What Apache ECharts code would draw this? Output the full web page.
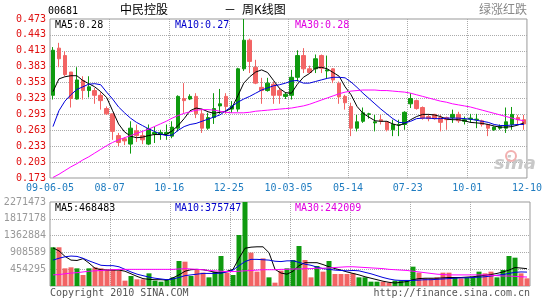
<!DOCTYPE html>
<html><head><meta charset="utf-8">
<script src="https://cdn.jsdelivr.net/npm/echarts@6/dist/echarts.min.js"></script>
<style>html,body{margin:0;padding:0;background:#fff}#c{width:545px;height:300px}</style>
</head><body><div id="c"></div>
<script>
const dates = ['09-06-05','09-06-12','09-06-19','09-06-26','09-07-03','09-07-10','09-07-17','09-07-24','09-07-31','09-08-07',
'09-08-14','09-08-21','09-08-28','09-09-04','09-09-11','09-09-18','09-09-25','09-10-02','09-10-09','09-10-16',
'09-10-23','09-10-30','09-11-06','09-11-13','09-11-20','09-11-27','09-12-04','09-12-11','09-12-18','09-12-25',
'10-01-01','10-01-08','10-01-15','10-01-22','10-01-29','10-02-05','10-02-12','10-02-19','10-02-26','10-03-05',
'10-03-12','10-03-19','10-03-26','10-04-02','10-04-09','10-04-16','10-04-23','10-04-30','10-05-07','10-05-14',
'10-05-21','10-05-28','10-06-04','10-06-11','10-06-18','10-06-25','10-07-02','10-07-09','10-07-16','10-07-23',
'10-07-30','10-08-06','10-08-13','10-08-20','10-08-27','10-09-03','10-09-10','10-09-17','10-09-24','10-10-01',
'10-10-08','10-10-15','10-10-22','10-10-29','10-11-05','10-11-12','10-11-19','10-11-26','10-12-03','10-12-10'];
const xTickLabels = ['09-06-05','08-07','10-16','12-25','10-03-05','05-14','07-23','10-01','12-10'];

const openP = [0.329,0.418,0.404,0.373,0.322,0.357,0.338,0.338,0.329,0.304,
0.294,0.253,0.247,0.237,0.262,0.253,0.237,0.256,0.256,0.256,
0.252,0.267,0.323,0.322,0.327,0.294,0.267,0.287,0.309,0.327,
0.303,0.303,0.379,0.433,0.382,0.344,0.338,0.350,0.338,0.327,
0.329,0.363,0.404,0.379,0.379,0.404,0.375,0.379,0.352,0.327,
0.308,0.267,0.280,0.293,0.277,0.283,0.279,0.264,0.273,0.274,
0.313,0.319,0.306,0.289,0.293,0.287,0.287,0.287,0.293,0.280,
0.284,0.283,0.281,0.274,0.264,0.267,0.267,0.274,0.287,0.283];
const closeP = [0.414,0.398,0.368,0.323,0.358,0.338,0.345,0.329,0.319,0.294,
0.261,0.240,0.243,0.267,0.253,0.245,0.266,0.259,0.259,0.259,
0.269,0.327,0.319,0.327,0.294,0.267,0.287,0.304,0.313,0.308,
0.309,0.379,0.433,0.393,0.352,0.338,0.352,0.329,0.329,0.331,
0.363,0.404,0.379,0.372,0.398,0.380,0.377,0.358,0.326,0.315,
0.267,0.279,0.296,0.294,0.279,0.280,0.264,0.274,0.274,0.297,
0.323,0.304,0.286,0.285,0.285,0.278,0.283,0.293,0.281,0.283,
0.286,0.284,0.274,0.267,0.269,0.270,0.279,0.293,0.283,0.275];
const highP = [0.420,0.428,0.412,0.373,0.382,0.365,0.365,0.343,0.335,0.308,
0.294,0.258,0.250,0.280,0.274,0.261,0.274,0.270,0.264,0.274,
0.280,0.329,0.352,0.331,0.333,0.303,0.296,0.333,0.341,0.333,
0.318,0.381,0.473,0.436,0.396,0.362,0.362,0.355,0.343,0.335,
0.377,0.414,0.418,0.385,0.406,0.406,0.404,0.380,0.355,0.330,
0.315,0.292,0.306,0.296,0.292,0.292,0.280,0.283,0.283,0.299,
0.333,0.321,0.308,0.294,0.294,0.292,0.289,0.302,0.298,0.289,
0.294,0.294,0.283,0.275,0.270,0.274,0.306,0.307,0.292,0.292];
const lowP = [0.321,0.382,0.365,0.306,0.321,0.321,0.325,0.313,0.302,0.292,
0.245,0.233,0.235,0.219,0.241,0.237,0.235,0.239,0.245,0.245,
0.248,0.261,0.296,0.320,0.286,0.258,0.264,0.275,0.294,0.294,
0.296,0.298,0.375,0.371,0.350,0.313,0.336,0.313,0.313,0.322,
0.321,0.355,0.371,0.371,0.371,0.371,0.360,0.352,0.313,0.302,
0.252,0.261,0.277,0.285,0.261,0.274,0.261,0.252,0.252,0.264,
0.305,0.302,0.283,0.280,0.283,0.261,0.264,0.277,0.277,0.274,
0.277,0.267,0.270,0.252,0.262,0.264,0.258,0.264,0.274,0.264];

const ma5 = [0.336,0.360,0.364,0.366,0.366,0.357,0.351,0.345,0.336,0.325,
0.300,0.275,0.260,0.252,0.249,0.250,0.253,0.255,0.255,0.255,
0.262,0.272,0.285,0.300,0.305,0.303,0.298,0.295,0.297,0.299,
0.305,0.328,0.352,0.364,0.373,0.377,0.372,0.357,0.342,0.334,
0.333,0.350,0.363,0.370,0.380,0.382,0.379,0.372,0.365,0.345,
0.330,0.308,0.295,0.288,0.281,0.280,0.280,0.275,0.272,0.276,
0.283,0.289,0.293,0.293,0.292,0.289,0.284,0.283,0.283,0.281,
0.278,0.277,0.276,0.274,0.271,0.269,0.269,0.270,0.273,0.277];
const ma10 = [0.270,0.300,0.318,0.330,0.340,0.345,0.350,0.351,0.349,0.335,
0.322,0.307,0.296,0.286,0.278,0.272,0.266,0.261,0.256,0.253,
0.254,0.263,0.270,0.274,0.276,0.280,0.284,0.288,0.292,0.300,
0.308,0.316,0.322,0.327,0.333,0.339,0.343,0.347,0.349,0.352,
0.356,0.357,0.352,0.352,0.355,0.358,0.361,0.363,0.363,0.362,
0.354,0.344,0.333,0.323,0.313,0.303,0.294,0.285,0.278,0.277,
0.280,0.285,0.286,0.286,0.285,0.285,0.286,0.286,0.286,0.285,
0.284,0.282,0.280,0.278,0.274,0.272,0.272,0.273,0.274,0.274];
const ma30 = [0.174,0.180,0.187,0.194,0.200,0.207,0.213,0.220,0.227,0.234,
0.240,0.245,0.249,0.253,0.257,0.261,0.265,0.270,0.275,0.280,
0.286,0.291,0.295,0.298,0.301,0.302,0.302,0.301,0.299,0.297,
0.296,0.296,0.296,0.297,0.299,0.300,0.301,0.302,0.303,0.304,
0.305,0.307,0.309,0.312,0.316,0.320,0.324,0.328,0.332,0.335,
0.337,0.338,0.339,0.339,0.339,0.338,0.338,0.337,0.336,0.335,
0.333,0.330,0.327,0.324,0.321,0.318,0.316,0.313,0.311,0.309,
0.307,0.304,0.301,0.298,0.295,0.292,0.289,0.286,0.283,0.281];

const volume = [1047000,1047000,478000,505000,478000,297000,478000,505000,478000,450000,
450000,414000,144000,270000,180000,180000,342000,144000,117000,180000,
234000,676000,658000,270000,433000,361000,234000,388000,811000,361000,
297000,1379000,2271473,902000,388000,748000,234000,90000,415000,478000,
703000,1082000,703000,234000,541000,388000,676000,325000,325000,325000,
342000,234000,234000,117000,117000,117000,90000,144000,144000,144000,
523000,361000,207000,207000,234000,361000,361000,234000,207000,234000,
234000,388000,342000,388000,234000,433000,811000,766000,342000,207000];
const volMa5 = [1030000,950000,800000,700000,690000,740000,620000,480000,440000,430000,
430000,430000,400000,330000,260000,200000,180000,170000,170000,160000,
220000,300000,400000,440000,450000,440000,410000,370000,350000,400000,
450000,750000,1020000,1050000,1060000,1060000,900000,450000,350000,320000,
400000,550000,630000,630000,630000,580000,520000,470000,430000,380000,
340000,300000,250000,210000,170000,130000,100000,80000,100000,120000,
170000,200000,210000,210000,210000,220000,230000,230000,230000,240000,
250000,270000,290000,310000,340000,380000,430000,500000,485000,468483];
const volMa10 = [700000,750000,790000,810000,800000,750000,680000,620000,560000,550000,
550000,520000,450000,380000,320000,280000,240000,210000,190000,170000,
190000,230000,280000,300000,320000,340000,340000,340000,350000,380000,
430000,550000,660000,720000,720000,710000,700000,670000,660000,680000,
680000,640000,590000,560000,510000,470000,450000,430000,420000,410000,
420000,410000,370000,330000,280000,230000,190000,160000,150000,150000,
150000,160000,170000,170000,180000,190000,200000,210000,220000,220000,
230000,240000,250000,270000,290000,310000,340000,370000,380000,375747];
const volMa30 = [300000,310000,330000,350000,360000,380000,400000,410000,420000,430000,
440000,450000,450000,450000,450000,450000,450000,450000,450000,450000,
450000,460000,470000,460000,450000,440000,420000,410000,400000,390000,
390000,400000,410000,420000,430000,440000,440000,440000,450000,450000,
460000,460000,470000,470000,480000,480000,490000,500000,510000,520000,
520000,510000,500000,490000,480000,470000,450000,440000,430000,420000,
400000,380000,360000,340000,320000,310000,300000,300000,300000,300000,
300000,300000,300000,290000,280000,270000,270000,260000,250000,242009];

const UP = '#0f9a0f', DOWN = '#f26464';
const MONO = '"DejaVu Sans Mono", monospace';
const CJK = '"Noto Sans CJK SC", sans-serif';

const candleData = openP.map((o, i) => [o, closeP[i], lowP[i], highP[i]]);
const volData = volume.map((v, i) => ({ value: v, itemStyle: { color: closeP[i] >= openP[i] ? UP : DOWN } }));
const last = a => a[a.length - 1];

const chart = echarts.init(document.getElementById('c'), null, { renderer: 'canvas' });
const dotted = { show: true, lineStyle: { color: '#aaa', type: 'dotted', width: 1 }, showMinLine: false, showMaxLine: false };
const volMax = 2271473;

chart.setOption({
  animation: false,
  backgroundColor: '#fff',
  grid: [
    { left: 50, top: 19, width: 480, height: 159, show: true, borderColor: '#999', borderWidth: 1 },
    { left: 50, top: 202, width: 480, height: 84, show: true, borderColor: '#999', borderWidth: 1 }
  ],
  xAxis: [
    { type: 'category', gridIndex: 0, position: 'top', data: dates, boundaryGap: true, show: false },
    { type: 'value', gridIndex: 0, position: 'bottom', min: 0, max: 80, interval: 10,
      axisLine: { show: false }, axisTick: { show: false }, splitLine: dotted,
      axisLabel: { color: '#1f7cc0', fontFamily: MONO, fontSize: 10, margin: 5,
        formatter: v => xTickLabels[Math.round(v / 10)] || '' } },
    { type: 'category', gridIndex: 1, position: 'top', data: dates, boundaryGap: true, show: false },
    { type: 'value', gridIndex: 1, position: 'bottom', min: 0, max: 80, interval: 10,
      axisLine: { show: false }, axisTick: { show: false }, splitLine: dotted, axisLabel: { show: false } }
  ],
  yAxis: [
    { type: 'value', gridIndex: 0, min: 0.173, max: 0.473, interval: 0.03,
      axisLine: { show: false }, axisTick: { show: false }, splitLine: dotted,
      axisLabel: { color: '#e01010', fontFamily: MONO, fontSize: 10, margin: 4,
        formatter: v => v.toFixed(3) } },
    { type: 'value', gridIndex: 1, min: 0, max: volMax, interval: volMax / 5,
      axisLine: { show: false }, axisTick: { show: false }, splitLine: dotted,
      axisLabel: { color: '#999', fontFamily: MONO, fontSize: 10, margin: 4,
        formatter: v => v <= 0 ? '' : String(Math.round(v)) } }
  ],
  series: [
    { type: 'candlestick', xAxisIndex: 0, yAxisIndex: 0, data: candleData, barWidth: 4,
      itemStyle: { color: UP, color0: DOWN, borderColor: UP, borderColor0: DOWN, borderWidth: 1 } },
    { type: 'line', xAxisIndex: 0, yAxisIndex: 0, data: ma5, showSymbol: false, lineStyle: { color: '#000', width: 1 }, z: 5 },
    { type: 'line', xAxisIndex: 0, yAxisIndex: 0, data: ma10, showSymbol: false, lineStyle: { color: '#0000dd', width: 1 }, z: 5 },
    { type: 'line', xAxisIndex: 0, yAxisIndex: 0, data: ma30, showSymbol: false, lineStyle: { color: '#ff00ff', width: 1 }, z: 5 },
    { type: 'bar', xAxisIndex: 2, yAxisIndex: 1, data: volData, barWidth: 5 },
    { type: 'line', xAxisIndex: 2, yAxisIndex: 1, data: volMa5, showSymbol: false, lineStyle: { color: '#000', width: 1 }, z: 5 },
    { type: 'line', xAxisIndex: 2, yAxisIndex: 1, data: volMa10, showSymbol: false, lineStyle: { color: '#0000dd', width: 1 }, z: 5 },
    { type: 'line', xAxisIndex: 2, yAxisIndex: 1, data: volMa30, showSymbol: false, lineStyle: { color: '#ff00ff', width: 1 }, z: 5 }
  ],
  graphic: [
    { type: 'text', x: 48, y: 6, style: { text: '00681', fill: '#000', font: '10px ' + MONO } },
    { type: 'text', x: 120, y: 3, style: { text: '中民控股', fill: '#000', font: '12px ' + CJK } },
    { type: 'text', x: 224, y: 3, style: { text: '－', fill: '#000', font: '12px ' + CJK } },
    { type: 'text', x: 242, y: 3, style: { text: '周K线图', fill: '#000', font: '12px ' + CJK } },
    { type: 'text', x: 479, y: 3, style: { text: '绿涨红跌', fill: '#888', font: '12px ' + CJK } },
    { type: 'text', x: 55, y: 20, z: 10, style: { text: 'MA5:' + last(ma5).toFixed(2), fill: '#000', font: '10px ' + MONO } },
    { type: 'text', x: 175, y: 20, z: 10, style: { text: 'MA10:' + last(ma10).toFixed(2), fill: '#0000cc', font: '10px ' + MONO } },
    { type: 'text', x: 295, y: 20, z: 10, style: { text: 'MA30:' + last(ma30).toFixed(2), fill: '#e000e0', font: '10px ' + MONO } },
    { type: 'text', x: 55, y: 203, z: 10, style: { text: 'MA5:' + last(volMa5), fill: '#000', font: '10px ' + MONO } },
    { type: 'text', x: 175, y: 203, z: 10, style: { text: 'MA10:' + last(volMa10), fill: '#0000cc', font: '10px ' + MONO } },
    { type: 'text', x: 295, y: 203, z: 10, style: { text: 'MA30:' + last(volMa30), fill: '#e000e0', font: '10px ' + MONO } },
    { type: 'text', x: 50, y: 288, style: { text: 'Copyright 2010 SINA.COM', fill: '#555', font: '10px ' + MONO } },
    { type: 'text', right: 15, y: 288, style: { text: 'http://finance.sina.com.cn', fill: '#555', font: '10px ' + MONO } },
    { type: 'text', x: 494, y: 155, z: 1, style: { text: 'sina', fill: '#c8c8c8', font: 'italic bold 18px "DejaVu Sans", sans-serif' } },
    { type: 'circle', shape: { cx: 511, cy: 156, r: 5 }, z: 1, style: { fill: 'none', stroke: '#f2b0b0', lineWidth: 2 } }
  ]
});
</script>
</body></html>
